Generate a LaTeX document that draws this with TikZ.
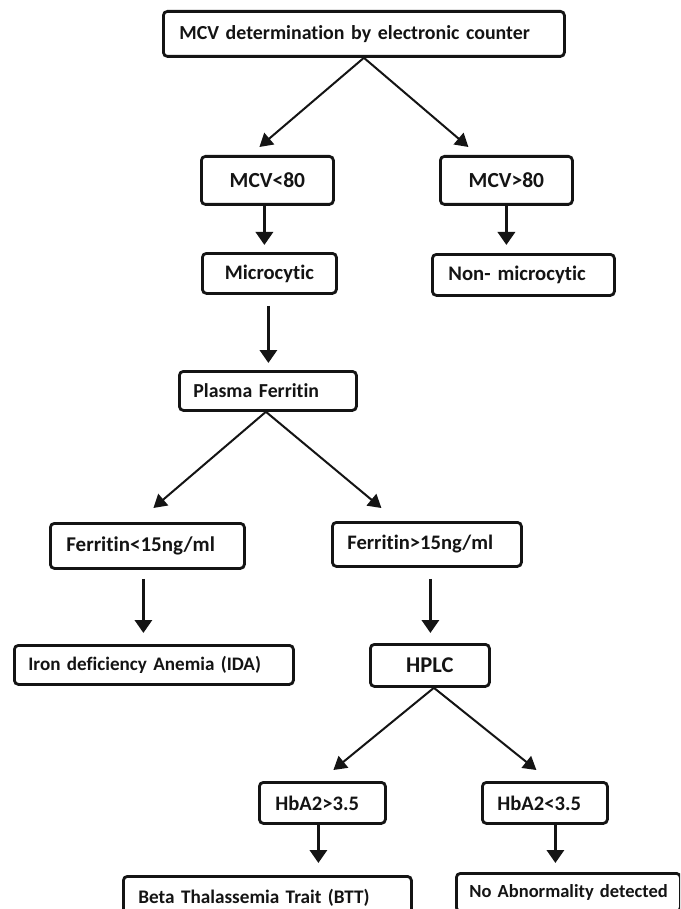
\documentclass[tikz,border=0pt]{standalone}
\usepackage{fontspec}
\setmainfont{Carlito}[Ligatures=NoCommon]
\usetikzlibrary{arrows.meta}
\definecolor{ink}{RGB}{20,20,20}
\begin{document}
\begin{tikzpicture}[x=1pt,y=-1pt,
  box/.style={draw=ink, text=ink, line width=2.8pt, rounded corners=4pt, anchor=north west,
    inner ysep=0pt, font=\bfseries\fontsize{20}{24}\selectfont},
  lbox/.style={box, align=left},
  cbox/.style={box, align=center, inner xsep=4pt},
  fs/.style={font=\bfseries\fontsize{#1}{24}\selectfont},
  diag/.style={draw=ink, line width=2pt, -{Triangle[width=15pt,length=13pt]}},
  vert/.style={draw=ink, line width=3.2pt, -{Triangle[width=17pt,length=13pt]}}]
\useasboundingbox (0,0) rectangle (680,909);
\fill[white] (0,0) rectangle (680,909);
\clip (0,0) rectangle (680,909);

% boxes
\node[lbox, inner xsep=16pt, text width=369pt, minimum height=45pt, fs=19.9] (top) at (162,10) {MCV determination by electronic counter};
\node[cbox, text width=124pt, minimum height=48pt, fs=21.5] (lo) at (200,155) {MCV<80};
\node[cbox, text width=124pt, minimum height=48pt, fs=21.5] (hi) at (439,155) {MCV>80};
\node[cbox, text width=126pt, minimum height=40pt, fs=20.6] (mic) at (201,252) {Microcytic};
\node[lbox, inner xsep=16pt, text width=150pt, minimum height=41pt, fs=20.7] (non) at (431,253) {Non- microcytic};
\node[lbox, inner xsep=14pt, text width=149pt, minimum height=39pt, fs=19.8] (pf) at (178,370) {Plasma Ferritin};
\node[lbox, inner xsep=16pt, text width=162pt, minimum height=45pt, fs=21] (fl) at (49,522) {Ferritin<15ng/ml};
\node[lbox, inner xsep=15pt, text width=159pt, minimum height=44pt, fs=20.6] (fh) at (331,521) {Ferritin>15ng/ml};
\node[lbox, inner xsep=14pt, text width=251pt, minimum height=39pt, fs=19.1] (ida) at (13,644) {Iron deficiency Anemia (IDA)};
\node[cbox, text width=111pt, minimum height=42pt, fs=22.5] (hplc) at (369,643) {HPLC};
\node[lbox, inner xsep=16pt, text width=94pt, minimum height=41pt, fs=20.6] (ha) at (258,781) {HbA2>3.5};
\node[lbox, inner xsep=15pt, text width=95pt, minimum height=41pt, fs=20.6] (hb) at (481,781) {HbA2<3.5};
\node[lbox, inner xsep=15pt, text width=258pt, minimum height=42pt, fs=19.2] (btt) at (122,875) {Beta Thalassemia Trait (BTT)};
\node[lbox, inner xsep=13pt, text width=198pt, minimum height=38pt, fs=18.5] (nab) at (455,872) {\mbox{No Abnormality detected}};

% connectors
\draw[diag] (top.south) -- ([shift={(-8,-8)}]lo.north);
\draw[diag] (top.south) -- ([shift={(-38,-8)}]hi.north);
\draw[vert, shorten >=7pt] ([xshift=-3pt]lo.south) -- ([xshift=-3pt]lo.south |- mic.north);
\draw[vert, shorten >=8pt] (hi.south) -- (hi.south |- non.north);
\draw[vert, shorten <=11pt, shorten >=7pt] ([xshift=-1pt]mic.south) -- ([xshift=-1pt]mic.south |- pf.north);
\draw[diag] ([xshift=-2pt]pf.south) -- ([shift={(6,-14)}]fl.north);
\draw[diag] ([xshift=-2pt]pf.south) -- ([shift={(-45.5,-13)}]fh.north);
\draw[vert, shorten <=9pt, shorten >=11pt] ([xshift=-4pt]fl.south) -- ([xshift=-4pt]fl.south |- ida.north);
\draw[vert, shorten <=11pt, shorten >=10pt] ([xshift=3.5pt]fh.south) -- ([xshift=3.5pt]fh.south |- hplc.north);
\draw[diag] ([xshift=4pt]hplc.south) -- ([shift={(11,-11)}]ha.north);
\draw[diag] ([xshift=4pt]hplc.south) -- ([shift={(-8.5,-11)}]hb.north);
\draw[vert, shorten >=12pt] ([xshift=-4pt]ha.south) -- ([xshift=-4pt]ha.south |- btt.north);
\draw[vert, shorten >=9pt] ([xshift=10.5pt]hb.south) -- ([xshift=10.5pt]hb.south |- nab.north);
\end{tikzpicture}
\end{document}
